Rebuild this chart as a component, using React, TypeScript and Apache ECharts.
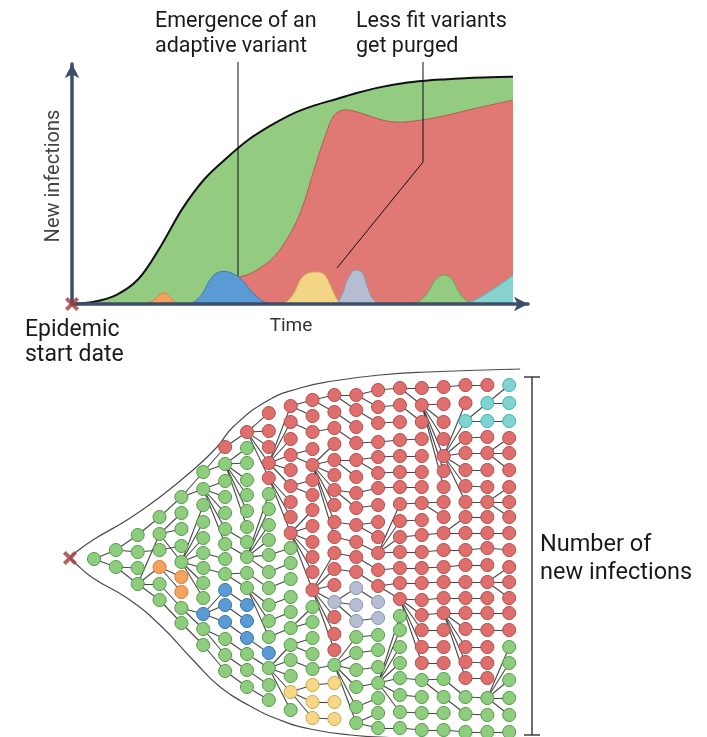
import React, { useEffect, useRef } from "react";
import * as echarts from "echarts";

// ---------- Top panel: new infections over time (time units 0..100, infections 0..~92) ----------
const greenTotal = [
  [0, 0], [5, 0.9], [10, 3.6], [15, 10], [20, 23], [25, 38.5], [30, 50.5], [35, 59], [40, 66.5],
  [45, 72.2], [50, 77], [55, 80.4], [60, 83], [65, 85.6], [70, 87.8], [75, 89.4], [80, 90.4],
  [85, 91], [90, 91.5], [95, 91.8], [100, 92],
];
const redVariant = [
  [33, 0], [35, 7], [37, 10.3], [40, 12], [43, 15], [46, 19.5], [49, 27], [52, 38], [55, 55],
  [57.5, 68.5], [59.5, 76.5], [62, 78.6], [65, 77.6], [68, 75.8], [71, 74.2], [74.5, 73.6],
  [78, 74.2], [82, 75.3], [86, 76.8], [90, 78.6], [95, 80.6], [100, 82.6],
];
const orangeBump = [[16.5, 0], [18.5, 1.5], [20, 4], [21, 4.5], [22, 3.2], [23.5, 0.6], [25, 0]];
const blueBump = [
  [26.5, 0], [28, 1.2], [29.7, 4.5], [31, 9], [32.5, 12.2], [34.3, 13.2], [36.3, 12.5],
  [38.5, 9.8], [40.5, 5.5], [42.5, 2], [44, 0.5], [46, 0],
];
const yellowBump = [
  [47.5, 0], [49, 1.5], [50.5, 5], [52, 10.5], [54, 12.8], [55.6, 13], [57.2, 12], [58.5, 8],
  [59.5, 4], [60.5, 1], [61.5, 0],
];
const greyBump = [[60, 0], [61.3, 4], [62.5, 10], [64.2, 13.8], [65.8, 12.8], [67, 7], [68, 2.5], [69.5, 0]];
const greenBump = [
  [77, 0], [79, 1.5], [80.6, 4.5], [82.5, 10], [84.2, 11.7], [86, 10.5], [87.7, 5], [89, 2],
  [90.5, 0.6], [92.5, 0],
];
const tealBump = [[88.5, 0], [91, 1.3], [94, 4.3], [97, 7.8], [100, 11.7]];

// ---------- Bottom panel: transmission tree ----------
// each column = generation; node = [vertical position, variant, parent position in previous generation]
const treeColumns: [number, string, number][][] = [
  [[559, "G", 0]],
  [[550, "G", 559], [567, "G", 559]],
  [[535, "G", 550], [552, "G", 550], [568, "G", 567], [584, "G", 567]],
  [[517, "G", 535], [534, "G", 584], [550, "G", 552], [567, "O", 584], [584, "G", 584], [600, "G", 584]],
  [[497, "G", 517], [513, "G", 534], [529, "G", 534], [546, "G", 550], [562, "G", 534], [577, "O", 567], [592, "O", 567], [608, "G", 584], [623, "G", 600]],
  [[472, "G", 497], [489, "G", 497], [505, "G", 562], [522, "G", 562], [538, "G", 562], [553, "G", 562], [568, "G", 562], [583, "G", 562], [598, "G", 562], [614, "B", 608], [629, "G", 608], [645, "G", 623]],
  [[447, "R", 472], [464, "G", 472], [481, "G", 489], [497, "G", 489], [513, "G", 489], [529, "G", 489], [544, "G", 489], [559, "G", 553], [574, "G", 568], [590, "B", 614], [605, "B", 614], [622, "B", 614], [639, "G", 629], [655, "G", 629], [671, "G", 645]],
  [[432, "R", 447], [448, "G", 464], [463, "G", 464], [480, "G", 464], [495, "G", 464], [511, "G", 464], [527, "G", 464], [542, "G", 529], [557, "G", 544], [573, "G", 574], [588, "G", 574], [605, "B", 590], [621, "B", 605], [638, "B", 622], [654, "G", 639], [670, "G", 655], [687, "G", 671]],
  [[413, "R", 432], [431, "R", 432], [447, "R", 432], [463, "R", 432], [478, "R", 432], [494, "G", 557], [509, "G", 557], [525, "G", 557], [540, "G", 557], [555, "G", 557], [572, "G", 557], [588, "G", 573], [605, "G", 588], [621, "G", 588], [637, "G", 588], [653, "B", 638], [668, "G", 654], [685, "G", 670], [700, "G", 687]],
  [[406, "R", 463], [422, "R", 463], [439, "R", 463], [455, "R", 463], [470, "R", 463], [486, "R", 463], [502, "R", 478], [517, "R", 478], [533, "R", 478], [548, "G", 555], [563, "G", 572], [579, "G", 588], [597, "G", 605], [612, "G", 621], [628, "G", 637], [645, "G", 668], [660, "G", 668], [676, "G", 668], [692, "Y", 668], [710, "G", 668]],
  [[400, "R", 406], [416, "R", 406], [432, "R", 422], [449, "R", 455], [465, "R", 455], [480, "R", 486], [495, "R", 486], [510, "R", 533], [526, "R", 533], [542, "R", 533], [557, "R", 533], [572, "R", 533], [590, "R", 533], [607, "G", 628], [622, "G", 628], [638, "G", 645], [654, "G", 645], [669, "G", 660], [685, "Y", 692], [702, "Y", 692], [718, "Y", 692]],
  [[395, "R", 400], [412, "R", 400], [428, "R", 432], [444, "R", 465], [460, "R", 465], [475, "R", 465], [490, "R", 465], [505, "R", 465], [522, "R", 465], [537, "R", 465], [553, "R", 590], [569, "R", 590], [585, "R", 590], [602, "S", 590], [617, "R", 590], [634, "R", 590], [650, "R", 590], [665, "G", 669], [683, "Y", 685], [702, "Y", 702], [719, "Y", 718]],
  [[395, "R", 395], [410, "R", 395], [427, "R", 412], [443, "R", 428], [460, "R", 460], [477, "R", 460], [493, "R", 490], [508, "R", 490], [525, "R", 522], [542, "R", 537], [557, "R", 553], [572, "R", 569], [588, "S", 602], [605, "S", 602], [621, "S", 602], [637, "G", 665], [653, "G", 665], [670, "G", 665], [687, "G", 665], [707, "G", 665], [723, "G", 665]],
  [[390, "R", 395], [407, "R", 395], [423, "R", 410], [442, "R", 443], [457, "R", 460], [473, "R", 460], [488, "R", 493], [505, "R", 508], [522, "R", 525], [537, "R", 525], [553, "R", 542], [570, "R", 557], [586, "R", 572], [602, "S", 588], [618, "S", 621], [635, "G", 637], [650, "G", 653], [667, "G", 670], [683, "G", 687], [698, "G", 707], [713, "G", 723], [728, "G", 723]],
  [[388, "R", 390], [405, "R", 407], [422, "R", 423], [440, "R", 442], [456, "R", 457], [472, "R", 473], [487, "R", 488], [504, "R", 553], [521, "R", 553], [537, "R", 553], [552, "R", 553], [568, "R", 570], [583, "R", 586], [599, "R", 586], [616, "G", 683], [630, "G", 683], [647, "G", 683], [663, "G", 683], [678, "G", 683], [695, "G", 683], [712, "G", 683], [728, "G", 728]],
  [[388, "R", 388], [405, "R", 388], [422, "R", 405], [439, "R", 440], [456, "R", 456], [472, "R", 472], [487, "R", 487], [503, "R", 504], [520, "R", 521], [535, "R", 537], [552, "R", 552], [568, "R", 568], [583, "R", 583], [600, "R", 599], [615, "R", 599], [630, "R", 599], [647, "R", 599], [663, "R", 599], [680, "G", 678], [697, "G", 695], [713, "G", 712], [730, "G", 728]],
  [[387, "R", 388], [404, "R", 405], [422, "R", 405], [439, "R", 405], [456, "R", 405], [471, "R", 405], [487, "R", 405], [502, "R", 503], [517, "R", 503], [533, "R", 535], [550, "R", 552], [567, "R", 568], [582, "R", 583], [598, "R", 600], [613, "R", 615], [630, "R", 630], [647, "R", 647], [663, "R", 663], [679, "G", 680], [697, "G", 680], [713, "G", 713], [730, "G", 730]],
  [[385, "R", 387], [403, "R", 456], [421, "C", 456], [438, "R", 456], [453, "R", 456], [470, "R", 456], [486, "R", 456], [502, "R", 456], [517, "R", 533], [533, "R", 533], [550, "R", 550], [565, "R", 567], [582, "R", 582], [598, "R", 598], [613, "R", 613], [629, "R", 613], [647, "R", 613], [662, "R", 613], [678, "R", 613], [697, "G", 679], [714, "G", 697], [732, "G", 730]],
  [[385, "R", 385], [403, "C", 421], [421, "C", 421], [437, "R", 438], [453, "R", 453], [470, "R", 470], [487, "R", 486], [502, "R", 502], [517, "R", 517], [533, "R", 533], [548, "R", 550], [565, "R", 565], [582, "R", 582], [598, "R", 598], [613, "R", 613], [630, "R", 629], [647, "R", 647], [663, "R", 662], [678, "R", 678], [698, "G", 697], [715, "G", 714], [732, "G", 732]],
  [[385, "C", 403], [403, "C", 403], [421, "C", 421], [438, "R", 453], [453, "R", 453], [470, "R", 453], [487, "R", 502], [502, "R", 502], [517, "R", 502], [533, "R", 533], [550, "R", 548], [567, "R", 582], [582, "R", 582], [598, "R", 582], [613, "R", 613], [630, "R", 630], [647, "G", 698], [663, "G", 698], [680, "G", 698], [698, "G", 698], [715, "G", 698], [732, "G", 732]],
];

const rootPoint = [-1.1, 558];
const envelopeTop = [
  [-1.1, 558], [-0.87, 553], [-0.05, 540], [1.51, 520], [3.02, 497], [4.53, 470], [5.63, 447],
  [6.36, 427], [7.92, 401], [9.43, 388], [10.94, 381], [13.09, 375], [15.24, 372], [19.5, 369],
];
const envelopeBottom = [
  [-1.1, 558], [-0.87, 563], [-0.05, 578], [1.51, 598], [3.02, 625], [4.53, 660], [5.77, 687],
  [7.14, 706], [8.51, 720], [9.89, 729], [11.72, 735], [14, 738], [19.5, 742],
];

const NODE_COLORS: Record<string, [string, string]> = {
  G: ["#8fcd7e", "#4f9a45"],
  R: ["#df6f6d", "#b24b49"],
  B: ["#5b9bd5", "#3674ad"],
  O: ["#f5a25d", "#d27b33"],
  Y: ["#f5d785", "#c9a54a"],
  S: ["#b5bdd3", "#8a93ab"],
  C: ["#80d3d1", "#3bb3ae"],
};

const CROSS = "path://M2,0 L5,3 L8,0 L10,2 L7,5 L10,8 L8,10 L5,7 L2,10 L0,8 L3,5 L0,2 Z";

export default function App() {
  const ref = useRef<HTMLDivElement>(null);

  useEffect(() => {
    const chart = echarts.init(ref.current as HTMLDivElement, null, { renderer: "svg" });

    const nodesByColor: Record<string, number[][]> = {};
    const edges: any[] = [];
    treeColumns.forEach((col, ci) => {
      col.forEach(([y, c, py]) => {
        (nodesByColor[c] = nodesByColor[c] || []).push([ci, y]);
        if (ci > 0) {
          const prev = treeColumns[ci - 1];
          let best = prev[0];
          for (const p of prev) if (Math.abs(p[0] - py) < Math.abs(best[0] - py)) best = p;
          edges.push({ coords: [[ci - 1, best[0]], [ci, y]] });
        }
      });
    });

    const area = (data: number[][], fill: string, stroke: string, z: number, width = 1) => ({
      type: "line",
      xAxisIndex: 0,
      yAxisIndex: 0,
      data,
      smooth: 0.35,
      symbol: "none",
      silent: true,
      z,
      lineStyle: { color: stroke, width },
      areaStyle: { color: fill, opacity: 1 },
    });

    const nodeSeries = Object.keys(nodesByColor).map((k) => ({
      type: "scatter",
      xAxisIndex: 1,
      yAxisIndex: 1,
      data: nodesByColor[k],
      symbol: "circle",
      symbolSize: 13,
      silent: true,
      z: 5,
      itemStyle: { color: NODE_COLORS[k][0], borderColor: NODE_COLORS[k][1], borderWidth: 1, opacity: 1 },
    }));

    const txt = (text: string, x: number, y: number, size: number, extra: any = {}) => ({
      type: "text",
      x,
      y,
      z: 50,
      ...extra,
      style: {
        text,
        fontFamily: "Roboto",
        fontSize: size,
        fill: "#1a1a1a",
        align: "left",
        verticalAlign: "middle",
        ...(extra.style || {}),
      },
    });

    const axisLineTop = {
      show: true,
      onZero: false,
      lineStyle: { color: "#3b4d6b", width: 3.5 },
      symbol: ["none", "arrow"],
      symbolSize: [11, 14],
    };

    chart.setOption({
      animation: false,
      grid: [
        { left: 72, top: 64, width: 456, height: 240 },
        { left: 50.3, top: 360, width: 502.6, height: 377 },
      ],
      xAxis: [
        {
          gridIndex: 0, type: "value", min: 0, max: 103.4, z: 10,
          axisLine: axisLineTop, axisTick: { show: false }, axisLabel: { show: false }, splitLine: { show: false },
        },
        { gridIndex: 1, type: "value", min: -2, max: 21, show: false },
      ],
      yAxis: [
        {
          gridIndex: 0, type: "value", min: 0, max: 97.17, z: 10,
          axisLine: axisLineTop, axisTick: { show: false }, axisLabel: { show: false }, splitLine: { show: false },
        },
        { gridIndex: 1, type: "value", min: 360, max: 737, inverse: true, show: false },
      ],
      series: [
        area(greenTotal, "#93cb80", "#111111", 2, 2),
        area(redVariant, "#e07873", "#b85a56", 3),
        area(orangeBump, "#f4a35e", "#d9823e", 4),
        area(blueBump, "#5b9bd5", "#3c78b4", 4),
        area(yellowBump, "#f3d587", "#c9a850", 4),
        area(greyBump, "#b5bdd2", "#8d96ad", 4),
        area(greenBump, "#93cb80", "#5ea84e", 4),
        area(tealBump, "#86d2ce", "#4fb8b2", 4),
        {
          type: "scatter", xAxisIndex: 0, yAxisIndex: 0, data: [[0, 0]], symbol: CROSS, symbolSize: 14,
          silent: true, z: 20, itemStyle: { color: "#a23b3b" },
        },
        {
          type: "line", xAxisIndex: 1, yAxisIndex: 1, data: envelopeTop, smooth: 0.5, symbol: "none",
          silent: true, clip: false, z: 1, lineStyle: { color: "#4a4a4a", width: 1.2 },
        },
        {
          type: "line", xAxisIndex: 1, yAxisIndex: 1, data: envelopeBottom, smooth: 0.5, symbol: "none",
          silent: true, clip: false, z: 1, lineStyle: { color: "#4a4a4a", width: 1.2 },
        },
        {
          type: "lines", coordinateSystem: "cartesian2d", xAxisIndex: 1, yAxisIndex: 1, data: edges,
          silent: true, z: 3, lineStyle: { color: "#333333", width: 1.1, opacity: 0.9 },
        },
        ...nodeSeries,
        {
          type: "scatter", xAxisIndex: 1, yAxisIndex: 1, data: [rootPoint], symbol: CROSS, symbolSize: 14,
          silent: true, z: 6, itemStyle: { color: "#a23b3b" },
        },
      ],
      graphic: [
        txt("Emergence of an", 155, 19, 21.5),
        txt("adaptive variant", 155, 44.5, 21.5),
        txt("Less fit variants", 356, 19, 21.5),
        txt("get purged", 356, 44.5, 21.5),
        { type: "polyline", z: 40, shape: { points: [[238, 62], [238, 276]] }, style: { stroke: "#111", lineWidth: 1, fill: null } },
        { type: "polyline", z: 40, shape: { points: [[423, 62], [423, 162], [337, 268]] }, style: { stroke: "#111", lineWidth: 1, fill: null } },
        txt("New infections", 52, 176, 20, { rotation: Math.PI / 2, style: { align: "center", fill: "#444" } }),
        txt("Time", 291, 324.5, 19, { style: { align: "center", fill: "#333" } }),
        txt("Epidemic", 25, 328, 23),
        txt("start date", 25, 353, 23),
        txt("Number of", 540, 543, 23.5),
        txt("new infections", 540, 570.5, 23.5),
        { type: "line", z: 40, shape: { x1: 532, y1: 377, x2: 532, y2: 735 }, style: { stroke: "#222", lineWidth: 1.3 } },
        { type: "line", z: 40, shape: { x1: 524, y1: 377, x2: 540, y2: 377 }, style: { stroke: "#222", lineWidth: 1.3 } },
        { type: "line", z: 40, shape: { x1: 524, y1: 735, x2: 540, y2: 735 }, style: { stroke: "#222", lineWidth: 1.3 } },
      ],
    });

    return () => chart.dispose();
  }, []);

  return <div ref={ref} style={{ position: "fixed", left: 0, top: 0, width: 707, height: 737 }} />;
}
